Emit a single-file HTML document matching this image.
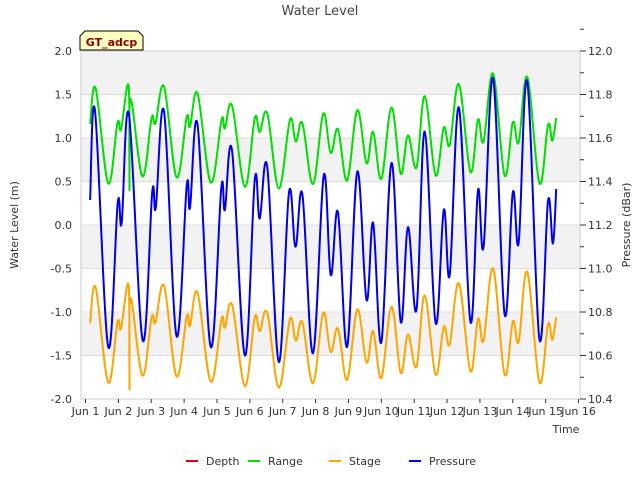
<!DOCTYPE html>
<html><head><meta charset="utf-8"><style>
body{margin:0;background:#fff;font-family:"Liberation Sans","DejaVu Sans",sans-serif}
svg text{font-family:"DejaVu Sans","Liberation Sans",sans-serif}
</style></head><body>
<svg id="chart" width="640" height="480" xmlns="http://www.w3.org/2000/svg">
<rect width="640" height="480" fill="#fff"/>
<g id="bands"></g><g id="grid"></g>
<rect x="81" y="51" width="499" height="348" fill="none" stroke="#ccc"/>
<g id="series"></g><g id="axes"></g>
<text x="320" y="15" text-anchor="middle" font-size="13" fill="#444">Water Level</text>
<text transform="translate(18,225) rotate(-90)" text-anchor="middle" font-size="11" fill="#333">Water Level (m)</text>
<text transform="translate(630,225) rotate(-90)" text-anchor="middle" font-size="11" fill="#333">Pressure (dBar)</text>
<text x="566" y="433" text-anchor="middle" font-size="11" fill="#333">Time</text>
<g>
<path d="M80,50 L80,36 L85,31 L138,31 L143,36 L143,50 Z" fill="#ffffc0" stroke="#000"/>
<text x="111.5" y="46" text-anchor="middle" font-size="11" font-weight="bold" fill="#8b0000">GT_adcp</text></g>
<g id="legend"></g>
</svg>
<script>
const NS="http://www.w3.org/2000/svg";
const rangeTimes=[1.14,1.31,1.69,1.97,2.08,2.31,2.34,2.37,2.73,3.01,3.13,3.39,3.77,4.08,4.18,4.41,4.81,5.14,5.24,5.46,5.85,6.15,6.30,6.53,6.88,7.22,7.40,7.60,7.92,8.23,8.46,8.68,8.96,9.27,9.55,9.75,10.00,10.31,10.59,10.81,11.07,11.32,11.65,11.90,12.08,12.36,12.71,12.94,13.11,13.40,13.75,14.00,14.18,14.44,14.81,15.07,15.20,15.32];
const rangeValues=[1.16,1.57,0.48,1.17,1.10,1.60,0.40,1.45,0.56,1.23,1.17,1.59,0.55,1.24,1.13,1.51,0.49,1.21,1.11,1.37,0.44,1.23,1.07,1.28,0.42,1.21,0.96,1.17,0.47,1.28,0.83,1.10,0.51,1.32,0.71,1.07,0.53,1.35,0.59,1.03,0.66,1.48,0.57,1.12,0.92,1.62,0.61,1.21,0.96,1.74,0.57,1.18,0.95,1.70,0.48,1.15,0.97,1.23];
const stageValues=[-1.13,-0.72,-1.81,-1.12,-1.19,-0.69,-1.89,-0.84,-1.73,-1.06,-1.12,-0.70,-1.74,-1.05,-1.16,-0.78,-1.80,-1.08,-1.18,-0.92,-1.85,-1.06,-1.22,-1.01,-1.87,-1.08,-1.33,-1.12,-1.82,-1.01,-1.46,-1.19,-1.78,-0.97,-1.58,-1.22,-1.76,-0.94,-1.70,-1.26,-1.63,-0.81,-1.72,-1.17,-1.37,-0.67,-1.68,-1.08,-1.33,-0.50,-1.72,-1.11,-1.34,-0.54,-1.81,-1.14,-1.32,-1.06];
const pressureTimes=[1.14,1.29,1.69,1.98,2.10,2.32,2.74,3.03,3.14,3.39,3.77,4.08,4.18,4.41,4.81,5.13,5.24,5.46,5.85,6.15,6.30,6.53,6.88,7.19,7.39,7.60,7.92,8.25,8.46,8.68,8.96,9.27,9.55,9.75,10.00,10.31,10.59,10.81,11.07,11.32,11.65,11.90,12.08,12.36,12.71,12.94,13.11,13.40,13.75,14.00,14.18,14.44,14.81,15.07,15.22,15.32];
const pressureValues=[11.315,11.725,10.64,11.30,11.21,11.71,10.67,11.35,11.28,11.72,10.69,11.38,11.28,11.66,10.64,11.37,11.27,11.54,10.60,11.41,11.23,11.465,10.57,11.35,11.10,11.34,10.61,11.43,10.97,11.26,10.64,11.445,10.855,11.21,10.66,11.485,10.755,11.19,10.81,11.63,10.75,11.27,10.97,11.74,10.755,11.36,11.10,11.875,10.79,11.35,11.12,11.86,10.675,11.31,11.115,11.365];
const leftTicks=["-2.0","-1.5","-1.0","-0.5","0.0","0.5","1.0","1.5","2.0"];
const rightTicks=["10.4","10.6","10.8","11.0","11.2","11.4","11.6","11.8","12.0"];
const dayTicks=[1,2,3,4,5,6,7,8,9,10,11,12,13,14,15,16];
const legendNames=["Depth","Range","Stage","Pressure"];
const legendColors=["#dd0000","#00e000","#ffa500","#0000ee"];

const X=d=>85.5+(d-1)*32.87;
const Y=v=>225-v*87;
const Y2=p=>51+(12-p)*217.5;
function el(tag,attrs,parent){const e=document.createElementNS(NS,tag);for(const k in attrs)e.setAttribute(k,attrs[k]);parent.appendChild(e);return e;}
const bands=document.getElementById('bands'),grid=document.getElementById('grid'),axes=document.getElementById('axes'),series=document.getElementById('series'),legend=document.getElementById('legend');
for(let i=0;i<leftTicks.length-1;i++){
  const v0=+leftTicks[i],v1=+leftTicks[i+1];
  if(i%2===1){const b=el('rect',{x:81,y:Y(v1),width:499,height:Y(v0)-Y(v1),fill:'#f2f2f2'},bands);
  
  }
}
leftTicks.forEach(t=>{const y=Y(+t);
  const g=el('line',{x1:81,x2:580,y1:y,y2:y,stroke:'#ddd'},grid);
  
  
  const tx=el('text',{x:72,y:y+4,'text-anchor':'end','font-size':11,fill:'#333'},axes);tx.textContent=t;
  
  
});
rightTicks.forEach(t=>{const y=Y2(+t);
  el('line',{x1:580,x2:586,y1:y,y2:y,stroke:'#333'},axes);
  el('line',{x1:580,x2:584,y1:Y2(+t+0.1),y2:Y2(+t+0.1),stroke:'#333'},axes);
  const tx=el('text',{x:588,y:y+4,'font-size':11,fill:'#333'},axes);tx.textContent=t;
  
  
});
dayTicks.forEach(d=>{const x=X(d);
  el('line',{x1:x,x2:x,y1:399,y2:403,stroke:'#333'},axes);
  const tx=el('text',{x:x,y:415,'text-anchor':'middle','font-size':11,fill:'#333'},axes);tx.textContent='Jun '+d;
  
  
});
function smooth(pts){let d='M'+pts[0][0].toFixed(1)+','+pts[0][1].toFixed(1);
  for(let i=0;i<pts.length-1;i++){const p0=pts[Math.max(0,i-1)],p1=pts[i],p2=pts[i+1],p3=pts[Math.min(pts.length-1,i+2)];
    const t=0.18;
    const c1=[p1[0]+(p2[0]-p0[0])*t,p1[1]+(p2[1]-p0[1])*t],c2=[p2[0]-(p3[0]-p1[0])*t,p2[1]-(p3[1]-p1[1])*t];
    d+=' C'+c1.map(v=>v.toFixed(1))+' '+c2.map(v=>v.toFixed(1))+' '+p2[0].toFixed(1)+','+p2[1].toFixed(1);}
  return d;}
const rp=el('path',{d:smooth(rangeTimes.map((t,i)=>[X(t),Y(rangeValues[i])])),fill:'none',stroke:'#00e000','stroke-width':2},series);


const sp=el('path',{d:smooth(rangeTimes.map((t,i)=>[X(t),Y(stageValues[i])])),fill:'none',stroke:'#ffa500','stroke-width':2},series);


const pp=el('path',{d:smooth(pressureTimes.map((t,i)=>[X(t),Y2(pressureValues[i])])),fill:'none',stroke:'#0000ee','stroke-width':2},series);


const lx=[186,248,329,409];
legendNames.forEach((n,i)=>{
  const g=el('g',{},legend);
  
  
  el('line',{x1:lx[i],x2:lx[i]+12,y1:461,y2:461,stroke:legendColors[i],'stroke-width':2},g);
  const t=el('text',{x:lx[i]+20,y:465,'font-size':11,fill:'#333'},g);t.textContent=n;
});
</script>
</body></html>
